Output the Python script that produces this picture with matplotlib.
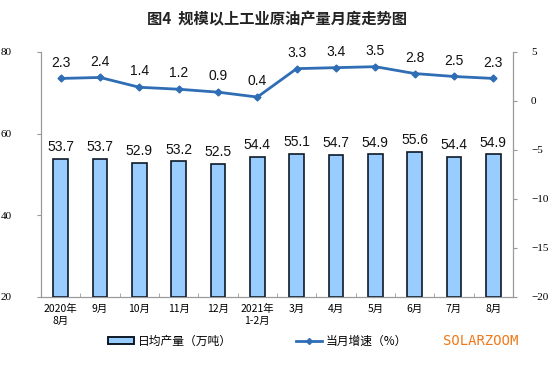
import matplotlib
matplotlib.use("Agg")
import matplotlib.pyplot as plt
import numpy as np
from matplotlib.lines import Line2D
from matplotlib.patches import Patch

plt.rcParams['font.family'] = ['Noto Sans CJK SC', 'DejaVu Sans']

months = ['2020年\n8月', '9月', '10月', '11月', '12月', '2021年\n1-2月',
          '3月', '4月', '5月', '6月', '7月', '8月']
output = [53.7, 53.7, 52.9, 53.2, 52.5, 54.4, 55.1, 54.7, 54.9, 55.6, 54.4, 54.9]
growth = [2.3, 2.4, 1.4, 1.2, 0.9, 0.4, 3.3, 3.4, 3.5, 2.8, 2.5, 2.3]

fig = plt.figure(figsize=(5.54, 3.74), dpi=100)
ax = fig.add_axes([0.074, 0.206, 0.852, 0.655])
ax2 = ax.twinx()

x = np.arange(len(months))
ax.bar(x, [v - 20 for v in output], bottom=20, width=0.38, color='#99ccff',
       edgecolor='#0d1a26', linewidth=1.2, zorder=3)
for i, v in enumerate(output):
    ax.text(i, v + 1.2, f'{v}', ha='center', va='bottom', fontsize=10,
            family='Liberation Sans', color='#111111')

ax2.plot(x, growth, color='#2f6db5', linewidth=2, marker='D', markersize=3.5, zorder=4)
for i, v in enumerate(growth):
    ax2.text(i, v + 0.9, f'{v}', ha='center', va='bottom', fontsize=10,
             family='Liberation Sans', color='#111111')

ax.set_xlim(-0.5, len(months) - 0.5)
ax.set_ylim(20, 80)
ax.set_yticks([20, 40, 60, 80])
ax2.set_ylim(-20, 5)
ax2.set_yticks([-20, -15, -10, -5, 0, 5])

ax.set_xticks(x)
ax.set_xticklabels(months, fontsize=7.5, linespacing=1.3)
ax.set_xticks(np.arange(-0.5, len(months), 1), minor=True)
ax.tick_params(axis='x', which='major', length=0, pad=5)
ax.tick_params(axis='x', which='minor', length=3, color='#999999', direction='in')

for a in (ax, ax2):
    a.spines['top'].set_visible(False)
    for s in ('left', 'right', 'bottom'):
        a.spines[s].set_color('#999999')
    a.tick_params(axis='y', labelsize=8, length=3, color='#999999', direction='out')
ax.tick_params(axis='y', pad=18)
ax2.tick_params(axis='y', pad=10)
for lbl in ax.get_yticklabels() + ax2.get_yticklabels():
    lbl.set_family('Liberation Serif')

fig.text(0.5, 0.949, '图4  规模以上工业原油产量月度走势图', ha='center', va='center',
         fontsize=11, fontweight='bold', color='#222222')

handles = [Patch(facecolor='#99ccff', edgecolor='#0d1a26', linewidth=1.4),
           Line2D([0], [0], color='#2f6db5', linewidth=2, marker='D', markersize=3)]
fig.legend(handles, ['日均产量（万吨）', '当月增速（%）'], loc='center',
           bbox_to_anchor=(0.465, 0.088), ncol=2, frameon=False, fontsize=8.5,
           handlelength=2.2, handleheight=0.6, columnspacing=5.5, handletextpad=0.3)

fig.text(0.868, 0.088, 'SOLARZOOM', ha='center', va='center', fontsize=10,
         color='#f07818', family='DejaVu Sans Mono')

fig.savefig('out.png', dpi=100)
